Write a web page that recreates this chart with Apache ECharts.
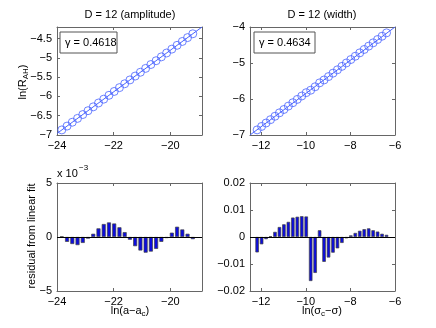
<!DOCTYPE html>
<html>
<head>
<meta charset="utf-8">
<script src="https://cdn.jsdelivr.net/npm/echarts@6/dist/echarts.min.js"></script>
<style>
html, body { margin: 0; padding: 0; background: #fff; }
#chart { width: 436px; height: 328px; }
</style>
</head>
<body>
<div id="chart"></div>
<script>
// amplitude run: ln(a - a_c) vs ln(R_AH)
const ampX = [-23.83, -23.645, -23.46, -23.275, -23.09, -22.905, -22.72, -22.535, -22.35, -22.165, -21.98, -21.795, -21.61,
  -21.425, -21.24, -21.055, -20.87, -20.685, -20.5, -20.315, -20.13, -19.945, -19.76, -19.575, -19.39, -19.205];
const ampY = [-6.868, -6.769, -6.669, -6.569, -6.470, -6.370, -6.270, -6.170, -6.071, -5.971, -5.871, -5.772, -5.672,
  -5.572, -5.472, -5.373, -5.273, -5.173, -5.074, -4.974, -4.874, -4.774, -4.675, -4.575, -4.475, -4.376];
const ampFitX = [-24, -18.88];
const ampFitY = [-6.96, -4.2];
// residuals, in units of 1e-3
const ampRes = [0.05, -0.45, -0.65, -0.75, -0.55, -0.15, 0.3, 0.8, 1.2, 1.35, 1.25, 0.9, 0.45,
  -0.25, -0.85, -1.25, -1.45, -1.35, -1.1, -0.45, -0.1, 0.4, 0.95, 0.7, 0.3, -0.2];

// width run: ln(sigma_c - sigma)
const widthX = [-12.18, -11.98, -11.78, -11.58, -11.38, -11.18, -10.98, -10.78, -10.58, -10.38, -10.18, -9.98, -9.78, -9.58, -9.38,
  -9.18, -8.98, -8.78, -8.58, -8.38, -8.18, -7.98, -7.78, -7.58, -7.38, -7.18, -6.98, -6.78, -6.58, -6.38];
const widthY = [-6.858, -6.762, -6.667, -6.574, -6.479, -6.384, -6.291, -6.197, -6.103, -6.011, -5.917, -5.824, -5.756, -5.660, -5.552,
  -5.471, -5.377, -5.282, -5.188, -5.093, -4.999, -4.904, -4.812, -4.718, -4.624, -4.532, -4.440, -4.347, -4.256, -4.163];
const widthFitX = [-12.5, -6];
const widthFitY = [-7, -4];
const widthRes = [-0.0057, -0.0027, -0.0008, 0.0003, 0.0019, 0.0037, 0.0047, 0.0056, 0.0072, 0.0075, 0.0077, 0.0076, -0.0163, -0.0133, 0.0025,
  -0.0092, -0.0076, -0.0058, -0.0042, -0.0022, -0.0005, 0.0006, 0.0015, 0.0023, 0.0029, 0.0032, 0.0025, 0.0020, 0.0012, 0.0008];

const ampXTicks = [-24, -22, -20];
const ampYTicks = [-7, -6.5, -6, -5.5, -5, -4.5];
const widthXTicks = [-12, -10, -8, -6];
const widthYTicks = [-7, -6, -5, -4];
const ampResTicks = [-5, 0, 5];
const widthResTicks = [-0.02, -0.01, 0, 0.01, 0.02];

const gammaAmp = '0.4618';
const gammaWidth = '0.4634';

const FONT = 'Liberation Sans';
const frame = '#666';
const blue = '#4a64ff';
const barBlue = '#0c0cdc';

const fmt = v => String(v).replace('-', '\u2212');

const grids = [
  { left: 57, top: 27, width: 145, height: 108 },
  { left: 250, top: 27, width: 145, height: 108 },
  { left: 57, top: 183, width: 145, height: 108 },
  { left: 250, top: 183, width: 145, height: 108 },
];

function axis(grid, pos, min, max, ticks) {
  const main = pos === 'bottom' || pos === 'left';
  return {
    type: 'value', gridIndex: grid, position: pos, min: min, max: max,
    splitLine: { show: false },
    axisLine: { show: true, onZero: false, lineStyle: { color: frame, width: 1 } },
    axisTick: { show: true, inside: true, length: 3, customValues: ticks, lineStyle: { color: frame } },
    axisLabel: {
      show: main, customValues: ticks, formatter: fmt, color: '#000',
      fontSize: 11, fontFamily: FONT, margin: 5
    }
  };
}

const xAxes = [], yAxes = [];
const ranges = [
  [-24, -18.88, ampXTicks, -7, -4.2, ampYTicks],
  [-12.5, -6, widthXTicks, -7, -4, widthYTicks],
  [-24, -18.88, ampXTicks, -5, 5, ampResTicks],
  [-12.5, -6, widthXTicks, -0.02, 0.02, widthResTicks],
];
ranges.forEach((r, g) => {
  xAxes.push(axis(g, 'bottom', r[0], r[1], r[2]));
  xAxes.push(axis(g, 'top', r[0], r[1], r[2]));
  yAxes.push(axis(g, 'left', r[3], r[4], r[5]));
  yAxes.push(axis(g, 'right', r[3], r[4], r[5]));
});

function fitLine(g, xs, ys) {
  return {
    type: 'line', xAxisIndex: g * 2, yAxisIndex: g * 2, symbol: 'none',
    data: xs.map((x, i) => [x, ys[i]]),
    lineStyle: { color: blue, width: 1 }, z: 3
  };
}
function circles(g, xs, ys) {
  return {
    type: 'scatter', xAxisIndex: g * 2, yAxisIndex: g * 2, symbol: 'circle', symbolSize: 8,
    data: xs.map((x, i) => [x, ys[i]]),
    itemStyle: { color: 'rgba(0,0,0,0)', borderColor: blue, borderWidth: 1 }, z: 4
  };
}
function bars(g, xs, ys, w) {
  return {
    type: 'bar', xAxisIndex: g * 2, yAxisIndex: g * 2, barWidth: w,
    data: xs.map((x, i) => [x, ys[i]]),
    itemStyle: { color: barBlue, borderColor: '#444', borderWidth: 0.7 },
    markLine: {
      silent: true, symbol: 'none', label: { show: false },
      lineStyle: { color: '#000', width: 1, type: 'solid' },
      data: [{ yAxis: 0 }]
    }
  };
}

const rich = {
  a: { fontSize: 11, fontFamily: FONT, lineHeight: 14, fill: '#000' },
  s: { fontSize: 8, fontFamily: FONT, lineHeight: 8, verticalAlign: 'bottom', fill: '#000' },
};

function label(x, y, text, rot) {
  return {
    type: 'text', x: x, y: y, rotation: rot || 0, z: 10,
    style: { text: text, rich: rich, align: 'center', verticalAlign: 'middle', fill: '#000' }
  };
}
function gammaBox(x, y, w, val) {
  return {
    type: 'group', x: x, y: y, z: 10,
    children: [
      { type: 'rect', shape: { x: 0, y: 0, width: w, height: 21 },
        style: { fill: '#fff', stroke: '#555', lineWidth: 1 } },
      { type: 'text', x: 5, y: 11,
        style: { text: '\u03b3 = ' + val, fontSize: 11, fontFamily: FONT, fill: '#000', verticalAlign: 'middle' } }
    ]
  };
}

const chart = echarts.init(document.getElementById('chart'));
chart.setOption({
  animation: false,
  backgroundColor: '#fff',
  grid: grids,
  xAxis: xAxes,
  yAxis: yAxes,
  series: [
    fitLine(0, ampFitX, ampFitY), circles(0, ampX, ampY),
    fitLine(1, widthFitX, widthFitY), circles(1, widthX, widthY),
    bars(2, ampX, ampRes, 4), bars(3, widthX, widthRes, 3.5),
  ],
  graphic: [
    label(130, 15, '{a|D = 12 (amplitude)}'),
    label(322, 15, '{a|D = 12 (width)}'),
    label(23, 82, '{a|ln(R}{s|AH}{a|)}', Math.PI / 2),
    label(32, 236, '{a|residual from linear fit}', Math.PI / 2),
    label(130, 311, '{a|ln(a\u2212a}{s|c}{a|)}'),
    label(322, 311, '{a|ln(\u03c3}{s|c}{a|\u2212\u03c3)}'),
    { type: 'text', x: 57, y: 174, z: 10,
      style: { text: 'x 10', fontSize: 11, fontFamily: FONT, fill: '#000', verticalAlign: 'middle' } },
    { type: 'text', x: 79, y: 168, z: 10,
      style: { text: '\u22123', fontSize: 8, fontFamily: FONT, fill: '#000', verticalAlign: 'middle' } },
    gammaBox(60, 32, 57, gammaAmp),
    gammaBox(254, 32, 61, gammaWidth),
  ]
});
</script>
</body>
</html>
